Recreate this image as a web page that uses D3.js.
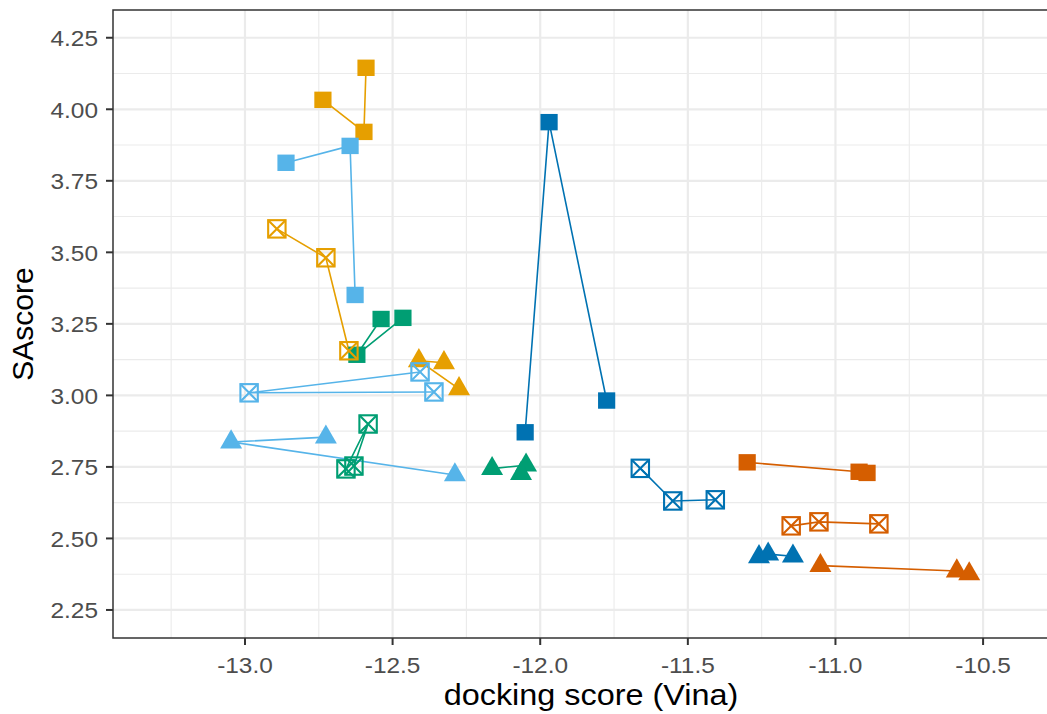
<!DOCTYPE html>
<html><head><meta charset="utf-8">
<script src="https://cdn.jsdelivr.net/npm/d3@7"></script>
<style>body{margin:0;background:#fff}svg{display:block}</style>
</head><body>
<svg id="c" width="1047" height="714"></svg>
<script>
// ---- data ----
const xTicks = [-13.0, -12.5, -12.0, -11.5, -11.0, -10.5];
const xMinor = [-13.25, -12.75, -12.25, -11.75, -11.25, -10.75, -10.25];
const yTicks = [2.25, 2.50, 2.75, 3.00, 3.25, 3.50, 3.75, 4.00, 4.25];
const yMinor = [2.375, 2.625, 2.875, 3.125, 3.375, 3.625, 3.875, 4.125];

const groups = ["orange", "skyblue", "green", "blue", "vermillion"];
const groupColors = ["#E69F00", "#56B4E9", "#009E73", "#0072B2", "#D55E00"];
const pointShapes = ["square","square","square","cross","cross","cross","triangle","triangle","triangle"];

const orangeX     = [-12.590, -12.597, -12.736, -12.892, -12.726, -12.648, -12.326, -12.411, -12.275];
const orangeY     = [4.145, 3.921, 4.033, 3.582, 3.481, 3.156, 3.114, 3.121, 3.023];
const skyblueX    = [-12.861, -12.644, -12.627, -12.407, -12.986, -12.360, -12.726, -13.047, -12.289];
const skyblueY    = [3.813, 3.872, 3.351, 3.082, 3.009, 3.012, 2.854, 2.837, 2.722];
const greenX      = [-12.539, -12.621, -12.465, -12.631, -12.583, -12.658, -12.163, -12.048, -12.065];
const greenY      = [3.267, 3.142, 3.271, 2.753, 2.900, 2.743, 2.744, 2.756, 2.727];
const blueX       = [-12.051, -11.970, -11.775, -11.661, -11.551, -11.407, -11.259, -11.228, -11.144];
const blueY       = [2.871, 3.955, 2.982, 2.745, 2.631, 2.635, 2.436, 2.445, 2.438];
const vermillionX = [-11.299, -10.920, -10.893, -11.150, -11.056, -10.853, -11.051, -10.589, -10.547];
const vermillionY = [2.766, 2.733, 2.729, 2.544, 2.558, 2.551, 2.405, 2.386, 2.376];

const xsByGroup = [orangeX, skyblueX, greenX, blueX, vermillionX];
const ysByGroup = [orangeY, skyblueY, greenY, blueY, vermillionY];

// ---- layout ----
const P = {l: 113, t: 10, r: 1069, b: 638};
const svg = d3.select("#c");
const x = d3.scaleLinear().domain([-13.447, -10.209]).range([P.l, P.r]);
const y = d3.scaleLinear().domain([2.152, 4.347]).range([P.b, P.t]);
const FONT = "'Liberation Sans', Arial, Helvetica, sans-serif";

const records = [];
groups.forEach((g, gi) => {
  xsByGroup[gi].forEach((xv, i) => {
    records.push({g, color: groupColors[gi], shape: pointShapes[i], x: xv, y: ysByGroup[gi][i]});
  });
});

// panel background
svg.append("rect").attr("x", P.l).attr("y", P.t).attr("width", P.r - P.l).attr("height", P.b - P.t).attr("fill", "#fff");

const grid = svg.append("g");
grid.selectAll(".xm").data(xMinor).join("line")
  .attr("x1", d => x(d)).attr("x2", d => x(d)).attr("y1", P.t).attr("y2", P.b)
  .attr("stroke", "#EBEBEB").attr("stroke-width", 1.1);
grid.selectAll(".ym").data(yMinor).join("line").attr("class","ym")
  .attr("y1", d => y(d)).attr("y2", d => y(d)).attr("x1", P.l).attr("x2", P.r)
  .attr("stroke", "#EBEBEB").attr("stroke-width", 1.1);
grid.selectAll(".xM").data(xTicks).join("line").attr("class","xM")
  .attr("x1", d => x(d)).attr("x2", d => x(d)).attr("y1", P.t).attr("y2", P.b)
  .attr("stroke", "#EBEBEB").attr("stroke-width", 2.2);
grid.selectAll(".yM").data(yTicks).join("line").attr("class","yM")
  .attr("y1", d => y(d)).attr("y2", d => y(d)).attr("x1", P.l).attr("x2", P.r)
  .attr("stroke", "#EBEBEB").attr("stroke-width", 2.2);

// lines
const paths = d3.groups(records, d => d.g, d => d.shape);
const lineGen = d3.line().x(d => x(d.x)).y(d => y(d.y));
const lg = svg.append("g");
paths.forEach(([g, byShape]) => {
  byShape.forEach(([s, pts]) => {
    lg.append("path").attr("d", lineGen(pts)).attr("fill", "none")
      .attr("stroke", pts[0].color).attr("stroke-width", 1.6);
  });
});

// points: squares, then triangles, then square-crosses
const pg = svg.append("g");
const order = ["square", "triangle", "cross"];
order.forEach(s => {
  records.filter(d => d.shape === s).forEach(d => {
    const gx = x(d.x), gy = y(d.y);
    const node = pg.append("g").attr("transform", `translate(${gx},${gy})`);
    if (s === "square") {
      node.append("rect").attr("x", -8.6).attr("y", -8.2).attr("width", 17.2).attr("height", 16.4).attr("fill", d.color);
    } else if (s === "triangle") {
      node.append("path").attr("d", "M0,-12.7L11,6.4L-11,6.4Z").attr("fill", d.color);
    } else {
      const h = 8.7;
      node.append("rect").attr("x", -h).attr("y", -h).attr("width", 2*h).attr("height", 2*h)
        .attr("fill", "none").attr("stroke", d.color).attr("stroke-width", 2.1);
      node.append("path").attr("d", `M${-h},${-h}L${h},${h}M${-h},${h}L${h},${-h}`)
        .attr("stroke", d.color).attr("stroke-width", 2.1);
    }
  });
});

// panel border
svg.append("rect").attr("x", P.l).attr("y", P.t).attr("width", P.r - P.l).attr("height", P.b - P.t)
  .attr("fill", "none").attr("stroke", "#333333").attr("stroke-width", 1.5);

// axes ticks
const ax = svg.append("g");
ax.selectAll(".xt").data(xTicks).join("line")
  .attr("x1", d => x(d)).attr("x2", d => x(d)).attr("y1", P.b).attr("y2", P.b + 7)
  .attr("stroke", "#333333").attr("stroke-width", 2);
ax.selectAll(".yt").data(yTicks).join("line").attr("class","yt")
  .attr("y1", d => y(d)).attr("y2", d => y(d)).attr("x1", P.l - 7).attr("x2", P.l)
  .attr("stroke", "#333333").attr("stroke-width", 2);

ax.selectAll(".xl").data(xTicks).join("text").attr("class","xl")
  .attr("transform", d => `translate(${x(d)},673) scale(1.11,1)`)
  .attr("text-anchor", "middle").attr("font-family", FONT).attr("font-size", 22).attr("fill", "#4D4D4D")
  .text(d => d3.format(".1f")(d).replace("−", "-"));
ax.selectAll(".yl").data(yTicks).join("text").attr("class","yl")
  .attr("transform", d => `translate(98,${y(d) + 8.3}) scale(1.11,1)`)
  .attr("text-anchor", "end").attr("font-family", FONT).attr("font-size", 22).attr("fill", "#4D4D4D")
  .text(d => d3.format(".2f")(d));

// titles
svg.append("text").attr("transform", `translate(${(P.l + P.r) / 2},705) scale(1.08,1)`)
  .attr("text-anchor", "middle").attr("font-family", FONT).attr("font-size", 30).attr("fill", "#000")
  .text("docking score (Vina)");
svg.append("text").attr("transform", `translate(33,${(P.t + P.b) / 2}) rotate(-90)`)
  .attr("text-anchor", "middle").attr("font-family", FONT).attr("font-size", 30).attr("fill", "#000")
  .text("SAscore");
</script>
</body></html>
